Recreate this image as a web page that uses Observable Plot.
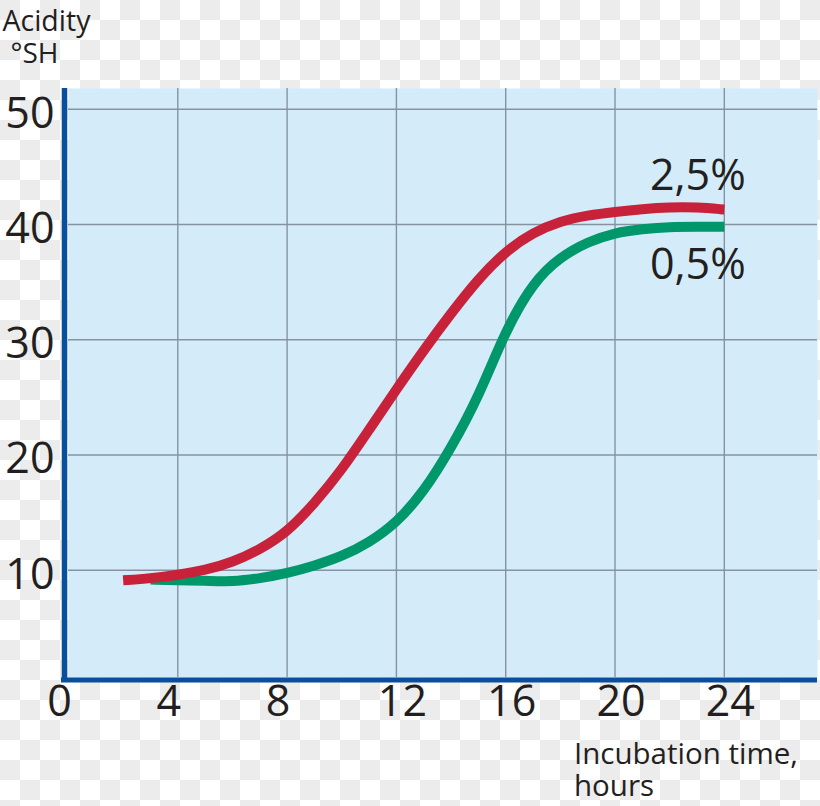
<!DOCTYPE html>
<html><head><meta charset="utf-8">
<script src="https://cdn.jsdelivr.net/npm/d3@7"></script>
<script src="https://cdn.jsdelivr.net/npm/@observablehq/plot@0.6"></script>
<style>
html,body{margin:0;padding:0;}
body{width:820px;height:806px;overflow:hidden;background-color:#ffffff;
background-image:linear-gradient(45deg, #ececec 25%, transparent 25%, transparent 75%, #ececec 75%),linear-gradient(45deg, #ececec 25%, transparent 25%, transparent 75%, #ececec 75%);
background-size:40px 40px;background-position:0 20px, 20px 40px;}
#chart svg{display:block;}
</style></head><body><div id="chart"></div>
<script>
const xTicks = [0, 4, 8, 12, 16, 20, 24];
const yTicks = [10, 20, 30, 40, 50];
const seriesNames = ["2,5%", "0,5%"];
const seriesColors = ["#c8223a", "#00986a"];
const hoursHigh = [2, 3, 4, 5, 6, 7, 8, 9, 10, 11, 12, 13, 14, 15, 16, 17, 18, 19, 20, 21, 22, 23, 24];
const acidHigh  = [9.13, 9.3, 9.6, 10.0, 10.7, 11.8, 13.3, 15.8, 18.7, 22.2, 25.7, 29.1, 32.3, 35.3, 37.7, 39.3, 40.3, 40.8, 41.1, 41.35, 41.5, 41.5, 41.3];
const hoursLow  = [3, 4, 5, 6, 7, 8, 9, 10, 11, 12, 13, 14, 15, 16, 17, 18, 19, 20, 21, 22, 23, 24];
const acidLow   = [9.2, 9.13, 9.1, 9.0, 9.3, 9.74, 10.4, 11.2, 12.4, 14.1, 16.8, 20.6, 25.0, 30.85, 35.0, 37.2, 38.5, 39.3, 39.6, 39.8, 39.8, 39.8];

const highData = hoursHigh.map((h, i) => ({series: seriesNames[0], hour: h, acid: acidHigh[i]}));
const lowData = hoursLow.map((h, i) => ({series: seriesNames[1], hour: h, acid: acidLow[i]}));

const xDomain = [0, 27.41];
const yDomain = [0.7, 51.8];
const axisBlue = "#0a4f9d";
const gridGray = "#8593a0";
const ink = "#231f20";
const font = "'Open Sans', Lato, sans-serif";
const tickSize = 43;

const chart = Plot.plot({
  width: 820, height: 806,
  marginLeft: 68, marginRight: 3, marginTop: 88, marginBottom: 129,
  style: {background: "transparent", fontFamily: font, color: ink, overflow: "visible"},
  x: {domain: xDomain, axis: null},
  y: {domain: yDomain, axis: null},
  marks: [
    Plot.frame({fill: "#d4ecfa", stroke: null}),
    Plot.ruleX(xTicks.filter(d => d > 0), {stroke: gridGray, strokeWidth: 1.4}),
    Plot.ruleY(yTicks, {stroke: gridGray, strokeWidth: 1.4}),
    Plot.line(lowData, {x: "hour", y: "acid", stroke: seriesColors[1], strokeWidth: 10, curve: "basis", strokeLinecap: "butt"}),
    Plot.line(highData, {x: "hour", y: "acid", stroke: seriesColors[0], strokeWidth: 10, curve: "basis", strokeLinecap: "butt"}),
    Plot.ruleX([xDomain[0]], {stroke: axisBlue, strokeWidth: 5.5, dx: -4, insetBottom: -5}),
    Plot.ruleY([yDomain[0]], {stroke: axisBlue, strokeWidth: 5, dy: 2.5, insetLeft: -7}),
    Plot.text(highData, Plot.selectLast({x: "hour", y: "acid", text: "series", fontSize: 43, dx: -26.5, dy: -33, fill: ink})),
    Plot.text(lowData, Plot.selectLast({x: "hour", y: "acid", text: "series", fontSize: 43, dx: -26.5, dy: 38, fill: ink})),
    Plot.text(xTicks.filter(d => d < 10), {x: d => d, text: d => String(d), frameAnchor: "bottom", dy: 38, dx: -9, fontSize: tickSize, fill: ink}),
    Plot.text(xTicks.filter(d => d >= 10), {x: d => d, text: d => String(d), frameAnchor: "bottom", dy: 38, dx: 6, fontSize: tickSize, fill: ink}),
    Plot.text(yTicks, {y: d => d, text: d => String(d), frameAnchor: "left", textAnchor: "end", dx: -14, dy: 4.5, fontSize: tickSize, fill: ink}),
    Plot.text(["Acidity"], {frameAnchor: "top-left", textAnchor: "start", lineAnchor: "top", dx: -66, dy: -78, fontSize: 28.5, fill: ink}),
    Plot.text(["°SH"], {frameAnchor: "top-left", textAnchor: "start", lineAnchor: "top", dx: -58, dy: -45, fontSize: 28, fill: ink}),
    Plot.text(["Incubation time,"], {frameAnchor: "bottom-left", textAnchor: "start", lineAnchor: "top", dx: 505.5, dy: 66, fontSize: 29.5, fill: ink}),
    Plot.text(["hours"], {frameAnchor: "bottom-left", textAnchor: "start", lineAnchor: "top", dx: 505.5, dy: 98, fontSize: 29.5, fill: ink})
  ]
});
document.getElementById("chart").appendChild(chart);
</script>
</body></html>
